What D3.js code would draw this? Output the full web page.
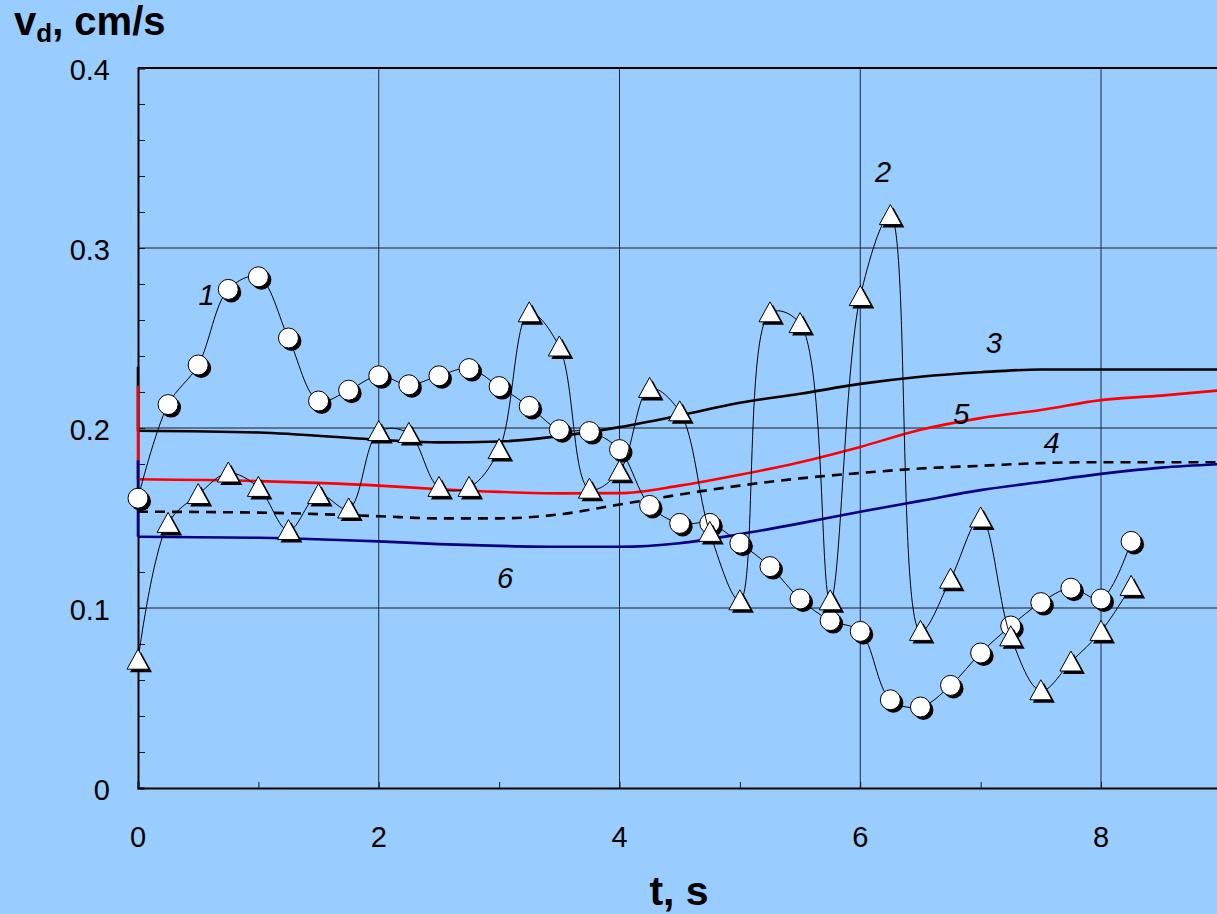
<!DOCTYPE html>
<html>
<head>
<meta charset="utf-8">
<script src="https://cdn.jsdelivr.net/npm/d3@7"></script>
<style>
  html, body { margin: 0; padding: 0; background: #99CCFF; overflow: hidden; }
  svg { display: block; }
  text { font-family: "Liberation Sans", Arial, sans-serif; fill: #000; }
</style>
</head>
<body>
<svg id="chart" width="1217" height="914"></svg>
<script>
// Measured droplet velocity (series 1, circles; series 2, triangles)
const tMeasured = [0, 0.25, 0.5, 0.75, 1, 1.25, 1.5, 1.75, 2, 2.25, 2.5, 2.75, 3, 3.25, 3.5, 3.75,
  4, 4.25, 4.5, 4.75, 5, 5.25, 5.5, 5.75, 6, 6.25, 6.5, 6.75, 7, 7.25, 7.5, 7.75, 8, 8.25];
const series1 = [0.161, 0.213, 0.235, 0.277, 0.284, 0.250, 0.215, 0.221, 0.229, 0.224, 0.229, 0.233,
  0.223, 0.212, 0.199, 0.198, 0.188, 0.157, 0.147, 0.147, 0.136, 0.123, 0.105, 0.093, 0.087,
  0.049, 0.045, 0.057, 0.075, 0.090, 0.103, 0.111, 0.105, 0.137];
const series2 = [0.071, 0.147, 0.163, 0.175, 0.167, 0.143, 0.163, 0.155, 0.198, 0.197, 0.167, 0.167,
  0.188, 0.264, 0.245, 0.166, 0.176, 0.222, 0.209, 0.142, 0.104, 0.264, 0.258, 0.104, 0.273,
  0.318, 0.087, 0.116, 0.150, 0.084, 0.054, 0.070, 0.087, 0.112];

// Calculated curves 3-6: value at t = 0 and the course afterwards
const tModel = [0, 1, 2, 2.5, 3, 3.5, 4, 4.5, 5, 5.5, 6, 6.5, 7, 7.5, 8, 8.5, 9];
const start3 = 0.234;
const model3 = [0.1985, 0.1975, 0.1935, 0.192, 0.1925, 0.1955, 0.2005, 0.207, 0.214, 0.219, 0.2245,
  0.2285, 0.231, 0.2325, 0.2325, 0.2325, 0.2325];
const start4 = 0.1535;
const model4 = [0.1535, 0.153, 0.151, 0.1498, 0.1498, 0.152, 0.1575, 0.163, 0.168, 0.172, 0.175,
  0.1775, 0.179, 0.1805, 0.181, 0.181, 0.181];
const start5 = 0.2235;
const model5 = [0.1715, 0.1705, 0.168, 0.166, 0.1645, 0.1637, 0.1638, 0.168, 0.174, 0.181, 0.1895,
  0.199, 0.2055, 0.21, 0.2155, 0.218, 0.221];
const start6 = 0.182;
const model6 = [0.1396, 0.139, 0.137, 0.1355, 0.1345, 0.134, 0.134, 0.136, 0.141, 0.147, 0.1535,
  0.1595, 0.1655, 0.17, 0.1745, 0.178, 0.18];

// Axis ticks
const xTicks = [0, 2, 4, 6, 8];
const xMinorTicks = [1, 3, 5, 7];
const yTicks = [0, 0.1, 0.2, 0.3, 0.4];
const yMinorTicks = [0.02, 0.04, 0.06, 0.08, 0.12, 0.14, 0.16, 0.18, 0.22, 0.24, 0.26, 0.28,
  0.32, 0.34, 0.36, 0.38];

// Curve numbers, anchored in data units
const curveLabels = [
  { text: "1", t: 0.57, v: 0.274 },
  { text: "2", t: 6.19, v: 0.342 },
  { text: "3", t: 7.11, v: 0.247 },
  { text: "5", t: 6.84, v: 0.208 },
  { text: "4", t: 7.59, v: 0.1915 },
  { text: "6", t: 3.05, v: 0.1165 }
];

const svg = d3.select("#chart");
const x = d3.scaleLinear().domain([0, 9]).range([138, 1221.4]);
const y = d3.scaleLinear().domain([0, 0.4]).range([788, 68]);

svg.append("rect").attr("width", 1217).attr("height", 914).attr("fill", "#99CCFF");

// Grid
const grid = svg.append("g");
grid.selectAll(".hg").data(yTicks.filter(d => d > 0 && d < 0.4)).join("line")
  .attr("x1", x(0)).attr("x2", x(9)).attr("y1", d => y(d)).attr("y2", d => y(d))
  .attr("stroke", "#1a1a1a").attr("stroke-width", 1);
grid.selectAll(".vg").data(xTicks.filter(d => d > 0)).join("line")
  .attr("x1", d => x(d)).attr("x2", d => x(d)).attr("y1", y(0)).attr("y2", y(0.4))
  .attr("stroke", "#1c2838").attr("stroke-width", 1);
// top frame
grid.append("line").attr("x1", x(0)).attr("x2", x(9)).attr("y1", y(0.4)).attr("y2", y(0.4))
  .attr("stroke", "#000").attr("stroke-width", 2);

// Axes with inward ticks
const yAxis = d3.axisRight(y).tickValues(yTicks.concat(yMinorTicks)).tickSize(7).tickFormat("");
const gy = svg.append("g").attr("transform", `translate(${x(0)},0)`).call(yAxis);
gy.select(".domain").attr("stroke", "#000").attr("stroke-width", 2);
gy.selectAll(".tick line").attr("stroke", "#1a1a1a");

const xAxis = d3.axisTop(x).tickValues(xTicks.concat(xMinorTicks)).tickSize(6).tickFormat("");
const gx = svg.append("g").attr("transform", `translate(0,${y(0)})`).call(xAxis);
gx.select(".domain").attr("stroke", "#000").attr("stroke-width", 2);
gx.selectAll(".tick line").attr("stroke", "#1a1a1a");

// Tick labels
svg.append("g").selectAll("text").data(yTicks).join("text")
  .attr("x", 110).attr("y", d => y(d) + 12)
  .attr("text-anchor", "end").attr("font-size", 29)
  .text(d => d === 0 ? "0" : d3.format(".1f")(d));
svg.append("g").selectAll("text").data(xTicks).join("text")
  .attr("x", d => x(d)).attr("y", 847)
  .attr("text-anchor", "middle").attr("font-size", 29)
  .text(d => d);

// Axis titles
const yt = svg.append("text").attr("x", 14).attr("y", 35).attr("font-size", 40).attr("font-weight", "bold");
yt.append("tspan").text("v");
yt.append("tspan").attr("font-size", 26).attr("dy", 7).text("d");
yt.append("tspan").attr("dy", -7).text(", cm/s");
svg.append("text").attr("x", 679).attr("y", 905).attr("text-anchor", "middle")
  .attr("font-size", 41).attr("font-weight", "bold").text("t, s");

// Calculated curves
const models = [
  { start: start3, vals: model3, color: "#000", dash: null },
  { start: start4, vals: model4, color: "#000", dash: "10,7" },
  { start: start5, vals: model5, color: "#FF0000", dash: null },
  { start: start6, vals: model6, color: "#000080", dash: null }
];
const modelLine = d3.line().x(d => x(d[0])).y(d => y(d[1])).curve(d3.curveMonotoneX);
const mg = svg.append("g");
models.forEach(m => {
  const pts = tModel.map((t, i) => [t, m.vals[i]]);
  if (!m.dash) {
    mg.append("line").attr("x1", x(0)).attr("x2", x(0))
      .attr("y1", y(m.start)).attr("y2", y(m.vals[0]))
      .attr("stroke", m.color).attr("stroke-width", 2.6);
  }
  mg.append("path").attr("d", modelLine(pts)).attr("fill", "none")
    .attr("stroke", m.color).attr("stroke-width", 2.6)
    .attr("stroke-dasharray", m.dash);
});

// Measured series
const measLine = d3.line().x(d => x(d[0])).y(d => y(d[1])).curve(d3.curveCatmullRom.alpha(0.5));
const pts1 = tMeasured.map((t, i) => [t, series1[i]]);
const pts2 = tMeasured.map((t, i) => [t, series2[i]]);

svg.append("path").attr("d", measLine(pts1)).attr("fill", "none")
  .attr("stroke", "#000").attr("stroke-width", 1);
const c = svg.append("g").selectAll("g").data(pts1).join("g")
  .attr("transform", d => `translate(${x(d[0])},${y(d[1])})`);
c.append("circle").attr("cx", 3).attr("cy", 3).attr("r", 10).attr("fill", "#000");
c.append("circle").attr("r", 10).attr("fill", "#fff").attr("stroke", "#000").attr("stroke-width", 1);

svg.append("path").attr("d", measLine(pts2)).attr("fill", "none")
  .attr("stroke", "#000").attr("stroke-width", 1);
const tri = "M0,-11L11,9L-11,9Z";
const tg = svg.append("g").selectAll("g").data(pts2).join("g")
  .attr("transform", d => `translate(${x(d[0])},${y(d[1])})`);
tg.append("path").attr("d", tri).attr("transform", "translate(3,3)").attr("fill", "#000");
tg.append("path").attr("d", tri).attr("fill", "#fff").attr("stroke", "#000").attr("stroke-width", 1);

// Curve numbers
svg.append("g").selectAll("text").data(curveLabels).join("text")
  .attr("x", d => x(d.t)).attr("y", d => y(d.v) + 10)
  .attr("text-anchor", "middle").attr("font-size", 29).attr("font-style", "italic")
  .text(d => d.text);
</script>
</body>
</html>
